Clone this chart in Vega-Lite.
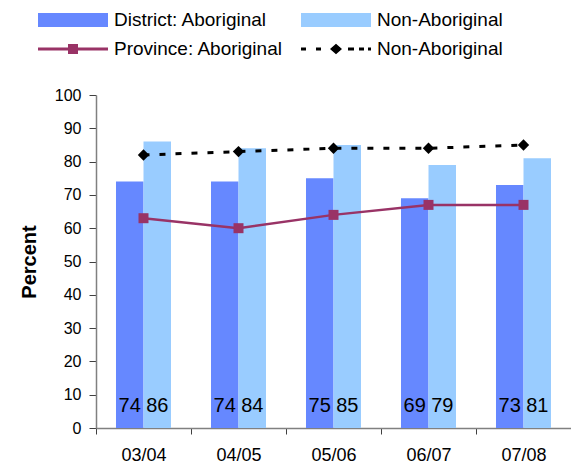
{
  "$schema": "https://vega.github.io/schema/vega-lite/v6.json",
  "autosize": {"type": "none"},
  "width": 475,
  "height": 333,
  "padding": {"left": 96, "top": 95, "right": 0, "bottom": 35},
  "config": {
    "font": "Liberation Sans",
    "view": {"stroke": null},
    "axisX": {
      "labelAngle": 0, "labelFontSize": 18, "labelColor": "#000000",
      "domainColor": "#808080", "domainWidth": 1.5, "tickColor": "#404040",
      "tickSize": 6, "labelPadding": 12, "tickBand": "extent", "labelOverlap": false, "title": null
    },
    "axisY": {
      "grid": false, "labelFontSize": 16, "labelColor": "#000000", "labelOverlap": false,
      "tickSize": 7, "labelPadding": 8, "domainColor": "#808080", "domainWidth": 1.5, "tickColor": "#404040"
    }
  },
  "datasets": {
    "bars": [
      {"year": "03/04", "series": "District: Aboriginal", "value": 74},
      {"year": "03/04", "series": "District: Non-Aboriginal", "value": 86},
      {"year": "04/05", "series": "District: Aboriginal", "value": 74},
      {"year": "04/05", "series": "District: Non-Aboriginal", "value": 84},
      {"year": "05/06", "series": "District: Aboriginal", "value": 75},
      {"year": "05/06", "series": "District: Non-Aboriginal", "value": 85},
      {"year": "06/07", "series": "District: Aboriginal", "value": 69},
      {"year": "06/07", "series": "District: Non-Aboriginal", "value": 79},
      {"year": "07/08", "series": "District: Aboriginal", "value": 73},
      {"year": "07/08", "series": "District: Non-Aboriginal", "value": 81}
    ],
    "lines": [
      {"year": "03/04", "series": "Province: Aboriginal", "value": 63},
      {"year": "04/05", "series": "Province: Aboriginal", "value": 60},
      {"year": "05/06", "series": "Province: Aboriginal", "value": 64},
      {"year": "06/07", "series": "Province: Aboriginal", "value": 67},
      {"year": "07/08", "series": "Province: Aboriginal", "value": 67},
      {"year": "03/04", "series": "Province: Non-Aboriginal", "value": 82},
      {"year": "04/05", "series": "Province: Non-Aboriginal", "value": 83},
      {"year": "05/06", "series": "Province: Non-Aboriginal", "value": 84},
      {"year": "06/07", "series": "Province: Non-Aboriginal", "value": 84},
      {"year": "07/08", "series": "Province: Non-Aboriginal", "value": 85}
    ]
  },
  "layer": [
    {
      "data": {"name": "bars"},
      "mark": {"type": "bar"},
      "encoding": {
        "x": {
          "field": "year", "type": "nominal",
          "scale": {"paddingInner": 0, "paddingOuter": 0},
          "axis": {"title": null}
        },
        "xOffset": {"field": "series", "type": "nominal", "scale": {"paddingInner": 0, "paddingOuter": 0.727}},
        "y": {
          "field": "value", "type": "quantitative",
          "scale": {"domain": [0, 100], "nice": false},
          "axis": {
            "title": "Percent", "titleFontSize": 20, "titleFontWeight": "bold", "titleColor": "#000000",
            "titleX": -61, "titleY": 166.5, "titleBaseline": "alphabetic", "titleAngle": -90,
            "values": [0, 10, 20, 30, 40, 50, 60, 70, 80, 90, 100], "tickCount": 11, "labelOverlap": false
          }
        },
        "color": {
          "field": "series", "type": "nominal",
          "scale": {
            "domain": ["District: Aboriginal", "District: Non-Aboriginal", "Province: Aboriginal", "Province: Non-Aboriginal"],
            "range": ["#6688FF", "#99CCFF", "#993366", "#000000"]
          },
          "legend": {
            "title": null, "orient": "none", "legendX": -58, "legendY": -85,
            "direction": "horizontal",
            "columns": 2, "symbolSize": 400, "labelFontSize": 19, "labelColor": "#000000",
            "labelOffset": 56, "columnPadding": 18, "rowPadding": 9, "labelLimit": 300,
            "labelExpr": "datum.label == 'District: Non-Aboriginal' || datum.label == 'Province: Non-Aboriginal' ? 'Non-Aboriginal' : datum.label",
            "symbolStrokeWidth": 0,
            "encode": {
              "symbols": {
                "update": {
                  "shape": {"signal": "datum.value == 'Province: Aboriginal' ? 'M-1,-0.14H6V0.14H-1Z M2,-0.5H3V0.5H2Z' : datum.value == 'Province: Non-Aboriginal' ? 'M-1,-0.15H-0.5V0.15H-1Z M0.5,-0.15H1V0.15H0.5Z M1.9,0L2.5,-0.52L3.1,0L2.5,0.52Z M3.7,-0.15H4.3V0.15H3.7Z M4.8,-0.15H5.3V0.15H4.8Z M5.7,-0.15H6V0.15H5.7Z' : 'M-1,-0.7H6V0.7H-1Z'"},
                  "fill": {"scale": "color", "field": "value"},
                  "stroke": {"value": "transparent"},
                  "opacity": {"value": 1}
                }
              }
            }
          }
        }
      }
    },
    {
      "data": {"name": "bars"},
      "mark": {"type": "text", "fontSize": 20, "baseline": "alphabetic", "dy": -16, "color": "#000000"},
      "encoding": {
        "x": {"field": "year", "type": "nominal"},
        "xOffset": {"field": "series", "type": "nominal"},
        "y": {"datum": 0},
        "text": {"field": "value", "type": "quantitative"}
      }
    },
    {
      "data": {"name": "lines"},
      "transform": [{"filter": "datum.series == 'Province: Aboriginal'"}],
      "mark": {"type": "line", "strokeWidth": 2.5, "point": {"shape": "square", "size": 100, "filled": true}},
      "encoding": {
        "x": {"field": "year", "type": "nominal"},
        "y": {"field": "value", "type": "quantitative"},
        "color": {"field": "series", "type": "nominal"}
      }
    },
    {
      "data": {"name": "lines"},
      "transform": [{"filter": "datum.series == 'Province: Non-Aboriginal'"}],
      "mark": {"type": "line", "strokeWidth": 3, "strokeDash": [6, 10], "point": {"shape": "diamond", "size": 130, "filled": true}},
      "encoding": {
        "x": {"field": "year", "type": "nominal"},
        "y": {"field": "value", "type": "quantitative"},
        "color": {"field": "series", "type": "nominal"}
      }
    }
  ]
}
